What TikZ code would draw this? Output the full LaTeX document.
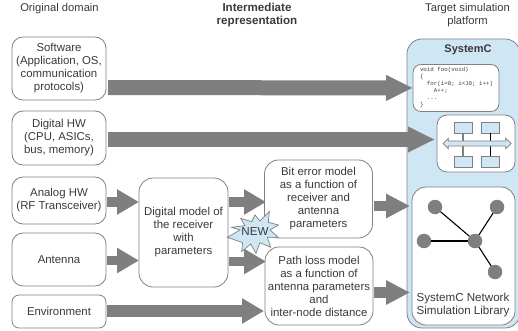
\documentclass[tikz,border=0pt]{standalone}
\usepackage{fontspec}
\setmainfont{Liberation Sans}
\setmonofont{Liberation Mono}
\usetikzlibrary{arrows.meta,shapes.arrows}
\definecolor{txt}{HTML}{3A3A3A}
\definecolor{boxline}{HTML}{808080}
\definecolor{fat}{HTML}{7F7F7F}
\definecolor{pale}{HTML}{CFE6F5}
\tikzset{
  x=1pt,y=-1pt,
  every node/.style={inner sep=0pt,outer sep=0pt,text=txt,font=\fontsize{11.4}{13}\selectfont,align=center},
  rbox/.style={draw=boxline,line width=0.8pt,fill=white,rounded corners=#1,anchor=north west},
  rbox/.default=11pt,
  fatlong/.style={draw=fat,line width=15pt,-{Triangle[length=27pt,width=24pt]}},
  fatshort/.style={draw=fat,line width=9.5pt,-{Triangle[length=22pt,width=24pt]}},
  fatenv/.style={draw=fat,line width=12.5pt,-{Triangle[length=22pt,width=24pt]}},
  fatright/.style={draw=fat,line width=10.5pt,-{Triangle[length=24pt,width=23pt]}},
  smallbox/.style={draw=boxline,line width=0.8pt,fill=pale,anchor=north west,minimum width=18pt,minimum height=11pt},
  dot/.style={circle,fill=fat,minimum size=14.5pt},
  wire/.style={draw=black,line width=1.1pt},
  starbox/.style={draw=boxline,line width=0.7pt,fill=pale},
}
\begin{document}
\begin{tikzpicture}
\useasboundingbox (0,0) rectangle (518,331);
% headings
\node[font=\fontsize{11.2}{13}\selectfont] (h1) at (59.5,9) {Original domain};
\node[font=\fontsize{11.6}{13}\selectfont\bfseries] (h2) at (257,15.5) {Intermediate\\representation};
\node[font=\fontsize{11.2}{13}\selectfont] (h3) at (467.5,15.5) {Target simulation\\platform};
% platform
\node[rbox=15pt,fill=pale,minimum width=113pt,minimum height=289pt] (sc) at (407,39) {};
\node[font=\fontsize{11}{13}\selectfont\bfseries] (sct) at (468,50) {SystemC};
% left column
\node[rbox,minimum width=94pt,minimum height=63pt] (sw) at (12,37) {Software\\(Application, OS,\\communication\\protocols)};
\node[rbox,minimum width=94pt,minimum height=54pt] (dh) at (12,111) {Digital HW\\(CPU, ASICs,\\bus, memory)};
\node[rbox,minimum width=94pt,minimum height=47pt] (ah) at (12,177) {Analog HW\\(RF Transceiver)};
\node[rbox,minimum width=94pt,minimum height=53pt] (an) at (12,233) {Antenna};
\node[rbox=7pt,minimum width=94pt,minimum height=33pt] (en) at (12,295) {Environment};
% middle
\node[rbox=14pt,minimum width=89pt,minimum height=109pt] (dm) at (139,178) {Digital model of\\the receiver\\with\\parameters};
\node[rbox=14pt,minimum width=108pt,minimum height=78pt] (be) at (264.5,160) {Bit error model\\as a function of\\receiver and\\antenna\\parameters};
\node[rbox=14pt,minimum width=108pt,minimum height=78pt] (pl) at (265,247) {Path loss model\\as a function of\\antenna parameters\\and\\inter-node distance};
% target boxes
\node[rbox=8pt,minimum width=86pt,minimum height=47pt] (code) at (413,64.5) {};
\node[anchor=west,font=\ttfamily\fontsize{5.8}{7}\selectfont,align=left] (codet) at (420,88) {void foo(void)\\\{\\\ \ for(i=0; i<10; i++)\\\ \ \ \ A++;\\\ \ ...\\\}};
\node[rbox=10pt,minimum width=78pt,minimum height=57pt] (bus) at (437,115) {};
\node[rbox=14pt,minimum width=103pt,minimum height=138pt] (net) at (412,187) {};
\node[font=\fontsize{11.6}{13}\selectfont] (nett) at (463,304.5) {SystemC Network\\Simulation Library};
% bus drawing
\node[smallbox] (b1) at (454,122) {};
\node[smallbox] (b2) at (481.5,122) {};
\node[smallbox] (b3) at (454,156) {};
\node[smallbox] (b4) at (481.5,156) {};
\draw[draw=fat,line width=1.2pt] (b1) -- (b3);
\draw[draw=black,line width=0.8pt] (b2) -- (b4);
\node[double arrow,starbox,minimum height=68pt,minimum width=10.5pt,double arrow head extend=2pt,double arrow head indent=0pt,inner sep=1.5pt] (ba) at (477,143.5) {};
% network drawing
\node[dot] (hub) at (475,241) {};
\node[dot] (d1) at (435,207) {};
\node[dot] (d2) at (497,207) {};
\node[dot] (d3) at (424,241) {};
\node[dot] (d4) at (495,272) {};
\draw[wire] (hub) -- (d1);
\draw[wire] (hub) -- (d2);
\draw[wire] (hub) -- (d3);
\draw[wire] (hub) -- (d4);
% fat arrows
\draw[fatlong] ([xshift=2pt,yshift=-19pt]sw.east) -- (code.west);
\draw[fatlong] ([xshift=2pt,yshift=-1.5pt]dh.east) -- ([xshift=-2pt,yshift=4pt]bus.west);
\draw[fatshort] ([xshift=1pt,yshift=-1.5pt]ah.east) -- ([yshift=30.5pt]dm.west);
\draw[fatshort] ([xshift=1pt,yshift=-1pt]an.east) -- ([yshift=-28pt]dm.west);
\draw[fatshort] ([xshift=1pt,yshift=30.5pt]dm.east) -- ([xshift=1.5pt,yshift=-3pt]be.west);
\draw[fatshort] ([xshift=1pt,yshift=-29pt]dm.east) -- ([xshift=1pt,yshift=24.5pt]pl.west);
\draw[fatenv] ([xshift=1pt,yshift=.5pt]en.east) -- ([xshift=-1pt,yshift=-25pt]pl.west);
\draw[fatright] ([xshift=1pt,yshift=-7pt]be.east) -- ([xshift=-2pt,yshift=50pt]net.west);
\draw[fatright] ([xshift=1pt,yshift=-6.5pt]pl.east) -- ([xshift=-2pt,yshift=-36.5pt]net.west);
% NEW burst
\begin{scope}[shift={(210,150)},x=0.3333pt,y=-0.3333pt]
\draw[starbox,line join=miter] (52,262) -- (90,240) -- (65,232) -- (105,227) -- (92,205) -- (125,215) -- (135,195) -- (150,213) -- (178,185) -- (175,217) -- (205,225) -- (180,240) -- (205,262) -- (172,262) -- (182,292) -- (150,278) -- (138,310) -- (122,282) -- (95,305) -- (98,278) -- cycle;
\end{scope}
\node[font=\fontsize{11.6}{13}\selectfont] (nw) at (255,232) {NEW};
\end{tikzpicture}
\end{document}
